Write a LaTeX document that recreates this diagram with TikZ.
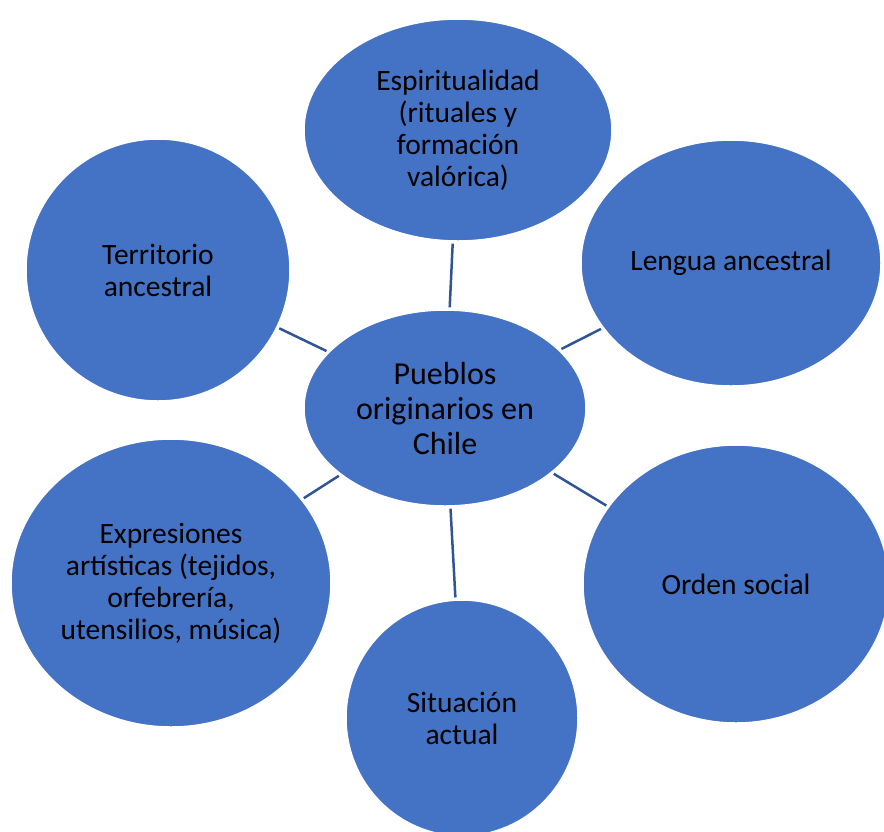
\documentclass[tikz,border=0pt]{standalone}
\usepackage{fontspec}
\setmainfont{Carlito}
\usetikzlibrary{shapes.geometric}

\definecolor{bubble}{HTML}{4472C4}
\definecolor{link}{HTML}{2F5597}

\tikzset{
  bubble/.style={ellipse, fill=bubble, draw=white, line width=1.5pt, inner sep=0pt,
    align=center, font=\fontsize{29.5}{32}\selectfont},
  link/.style={draw=link, line width=2.5pt}
}

\begin{document}
\begin{tikzpicture}[x=1pt, y=-1pt]
  \useasboundingbox (0,0) rectangle (884,831);
  % outer topics
  \node[bubble, minimum width=308, minimum height=222] (espi) at (458,130)
    {Espiritualidad\\(rituales y\\formación\\valórica)};
  \node[bubble, minimum width=264, minimum height=262] (terr) at (158,270)
    {Territorio\\ancestral};
  \node[bubble, minimum width=300, minimum height=246] (leng) at (731,263)
    {Lengua ancestral};
  \node[bubble, minimum width=320, minimum height=288] (expr) at (171,583)
    {Expresiones\\artísticas (tejidos,\\orfebrería,\\utensilios, música)};
  \node[bubble, minimum width=306, minimum height=278] (orden) at (736,584)
    {Orden social};
  \node[bubble, minimum width=232, minimum height=236] (sit) at (462,718)
    {Situación\\actual};
  % centre
  \node[bubble, minimum width=282, minimum height=196, font=\fontsize{32}{35}\selectfont]
    (pueblos) at (445,408) {Pueblos\\originarios en\\Chile};
  % connectors
  \foreach \n in {espi, terr, leng, expr, orden, sit}
    \draw[link, shorten <=2pt, shorten >=2pt] (pueblos) -- (\n);
\end{tikzpicture}
\end{document}
